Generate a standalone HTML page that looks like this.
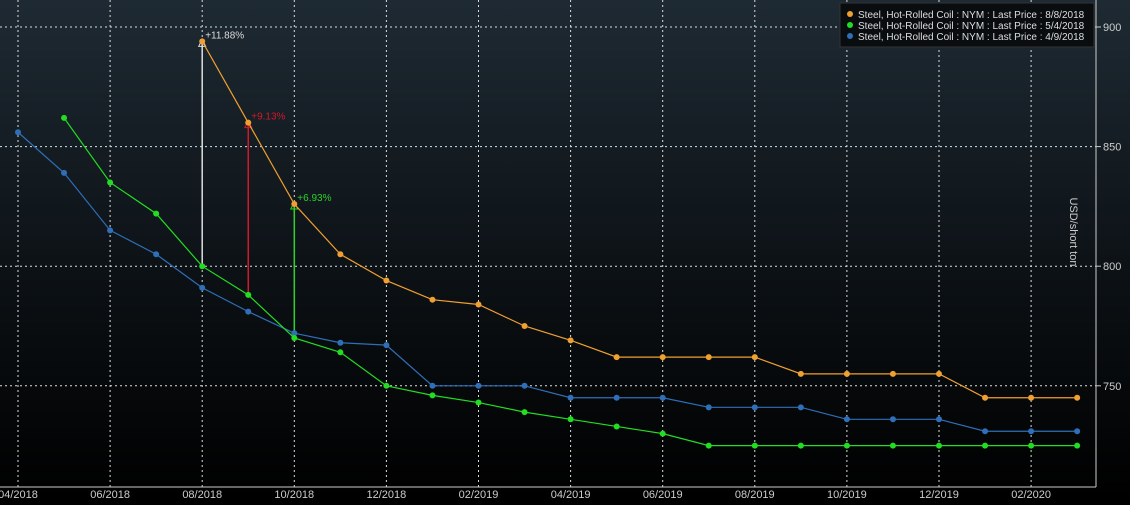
<!DOCTYPE html>
<html><head><meta charset="utf-8"><style>
body{margin:0;width:1130px;height:500px;overflow:hidden;background:#000;font-family:"Liberation Sans",sans-serif}
</style></head><body>
<svg id="c" width="1130" height="500" xmlns="http://www.w3.org/2000/svg">
<defs><linearGradient id="bg" x1="0" y1="0" x2="0" y2="1"><stop offset="0" stop-color="#1e2a33"/><stop offset="0.55" stop-color="#0c1115"/><stop offset="1" stop-color="#000"/></linearGradient></defs>
<rect width="1130" height="500" fill="url(#bg)"/>
<g id="grid"></g><g id="ann"></g><g id="series"></g><g id="axes"></g>
<g>
<rect x="840" y="3" width="254" height="44" fill="#0a0d10" stroke="#333"/>
<g id="leg"></g>
</g>
<text x="1070" y="232" fill="#ccc" font-size="11" transform="rotate(90 1070 232)" text-anchor="middle">USD/short ton</text>
</svg>
<script>
const monthLabels=["04/2018","06/2018","08/2018","10/2018","12/2018","02/2019","04/2019","06/2019","08/2019","10/2019","12/2019","02/2020"];
const yTicks=[750,800,850,900];
const blueVals=[856,839,815,805,791,781,772,768,767,750,750,750,745,745,745,741,741,741,736,736,736,731,731,731];
const greenVals=[862,835,822,800,788,770,764,750,746,743,739,736,733,730,725,725,725,725,725,725,725,725,725];
const orangeVals=[894,860,826,805,794,786,784,775,769,762,762,762,762,755,755,755,755,745,745,745];
const seriesNames=["Steel, Hot-Rolled Coil : NYM : Last Price : 8/8/2018","Steel, Hot-Rolled Coil : NYM : Last Price : 5/4/2018","Steel, Hot-Rolled Coil : NYM : Last Price : 4/9/2018"];
const annLabels=["+11.88%","+9.13%","+6.93%"];
const NS="http://www.w3.org/2000/svg";
const X=m=>18+m*46.05;
const Y=v=>27+(900-v)*2.392;
function mk(t,a,p){const e=document.createElementNS(NS,t);for(const k in a)e.setAttribute(k,a[k]);p.appendChild(e);return e;}
const grid=document.getElementById('grid'),axes=document.getElementById('axes'),ser=document.getElementById('series'),ann=document.getElementById('ann'),leg=document.getElementById('leg');
monthLabels.forEach((l,i)=>{const x=X(i*2);
const g=mk('line',{x1:x,x2:x,y1:0,y2:487,stroke:'#ddd','stroke-width':1,'stroke-dasharray':'2,3'},grid);


const t=mk('text',{x:x,y:498,fill:'#ccc','font-size':11,'text-anchor':'middle'},axes);t.textContent=l;

});
yTicks.forEach(v=>{const y=Y(v);
const g=mk('line',{x1:0,x2:1096,y1:y,y2:y,stroke:'#ddd','stroke-width':1,'stroke-dasharray':'2,3'},grid);


const t=mk('text',{x:1103,y:y+4,fill:'#ccc','font-size':11},axes);t.textContent=v;


mk('line',{x1:1096,x2:1101,y1:y,y2:y,stroke:'#ccc'},axes);});
mk('line',{x1:1096,x2:1096,y1:0,y2:487,stroke:'#ccc'},axes);
mk('line',{x1:0,x2:1096,y1:487,y2:487,stroke:'#ccc'},axes);
// annotations
const annDefs=[[4,greenVals[3],orangeVals[0],'#ddd'],[5,greenVals[4],orangeVals[1],'#d0192c'],[6,greenVals[5],orangeVals[2],'#2bd22b']];
annDefs.forEach((d,i)=>{const x=X(d[0]),y1=Y(d[1]),y2=Y(d[2]);
const l=mk('line',{x1:x,x2:x,y1:y1,y2:y2,stroke:d[3],'stroke-width':1.5},ann);


mk('path',{d:`M${x},${y2-2} L${x-3.5},${y2+5} L${x+3.5},${y2+5}Z`,fill:'none',stroke:d[3]},ann);
const t=mk('text',{x:x+3,y:y2-3,fill:d[3],'font-size':10},ann);t.textContent=annLabels[i];

});
function draw(vals,start,col,name){const g=mk('g',{},ser);


mk('polyline',{points:vals.map((v,i)=>X(start+i)+','+Y(v)).join(' '),fill:'none',stroke:col,'stroke-width':1.2},g);
vals.forEach((v,i)=>{const c=mk('circle',{cx:X(start+i),cy:Y(v),r:3,fill:col},g);

});}
draw(blueVals,0,'#2f6fb8','series-4-9-2018');
draw(greenVals,1,'#22dd22','series-5-4-2018');
draw(orangeVals,4,'#f0a030','series-8-8-2018');
['#f0a030','#22dd22','#2f6fb8'].forEach((c,i)=>{const y=14+i*11;
mk('circle',{cx:850,cy:y,r:3,fill:c},leg);
const t=mk('text',{x:858,y:y+4,fill:'#ddd','font-size':10},leg);t.textContent=seriesNames[i];

});
</script>
</body></html>
